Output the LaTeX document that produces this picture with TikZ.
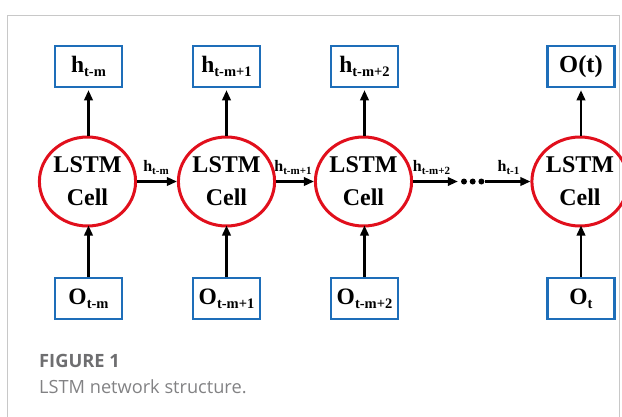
\documentclass[tikz,border=0pt]{standalone}
\usepackage{fontspec}
\setmainfont{Liberation Serif}
\newfontfamily\capfont{Open Sans}
\usetikzlibrary{arrows.meta,shapes.geometric}

\definecolor{boxblue}{RGB}{30,110,185}
\definecolor{cellred}{RGB}{225,15,28}
\definecolor{framegray}{RGB}{200,200,200}
\definecolor{capgray}{RGB}{110,110,112}
\definecolor{captxt}{RGB}{130,130,132}

% bold symbol with a lowered subscript
\newcommand{\symsub}[4]{{\fontsize{#3}{#3}\selectfont\bfseries #1\raisebox{-0.18em}{\fontsize{#4}{#4}\selectfont #2}}}

\begin{document}
\begin{tikzpicture}[x=1pt,y=-1pt,
  iobox/.style={draw=boxblue,line width=2.5pt,minimum width=67pt,minimum height=41pt,inner sep=0pt,fill=white},
  cell/.style={ellipse,draw=cellred,line width=3pt,minimum width=85pt,minimum height=89pt,inner sep=0pt,align=center,
    font=\fontsize{24}{33}\selectfont\bfseries},
  arr/.style={line width=2.1pt,-{Triangle[length=10pt,width=8.5pt]}},
  dot/.style={circle,fill=black,minimum size=6pt,inner sep=0pt},
  hlab/.style={inner sep=0pt,anchor=base}]
\useasboundingbox (0,0) rectangle (622,416);
\clip (0,0) rectangle (622,416);

% outer frame
\draw[framegray,line width=1pt] (7,430) -- (7,15) -- (619,15) -- (619,430);

% LSTM cells
\node[cell] (c1) at (87.5,181.5) {LSTM\\Cell};
\node[cell] (c2) at (226.5,181.5) {LSTM\\Cell};
\node[cell] (c3) at (363.5,181.5) {LSTM\\Cell};
\node[cell] (c4) at (580,181.5) {LSTM\\Cell};

% hidden state outputs
\node[iobox] (h1) at (88.5,66.5) {\symsub{h}{t-m}{23.5}{14.5}};
\node[iobox] (h2) at (226.5,66.5) {\symsub{h}{t-m+1}{23.5}{14.5}};
\node[iobox] (h3) at (364.5,66.5) {\symsub{h}{t-m+2}{23.5}{14.5}};
\node[iobox] (h4) at (581,66.5) {\fontsize{24.5}{24.5}\selectfont\bfseries O(t)};

% inputs
\node[iobox] (o1) at (88.5,298.5) {\symsub{O}{t-m}{23.5}{14.5}};
\node[iobox] (o2) at (226.5,298.5) {\symsub{O}{t-m+1}{23.5}{14.5}};
\node[iobox] (o3) at (364.5,298.5) {\symsub{O}{t-m+2}{23.5}{14.5}};
\node[iobox] (o4) at (581,298.5) {\symsub{O}{t}{23.5}{14.5}};

% vertical connectors
\foreach \i in {1,2,3,4}{
  \draw[arr] (h\i.south |- c\i.north) -- ([yshift=-2pt]h\i.south);
  \draw[arr] (o\i.north) -- ([yshift=2pt]o\i.north |- c\i.south);
}

% ellipsis between cells
\node[dot] (d1) at (464,181.5) {};
\node[dot] (d2) at (472.7,181.5) {};
\node[dot] (d3) at (481.4,181.5) {};

% recurrent connectors
\draw[arr] (c1.east) -- (c2.west);
\draw[arr] (c2.east) -- (c3.west);
\draw[arr] (c3.east) -- ([xshift=-3pt]d1.west);
\draw[arr] (d3.east) -- (c4.west);

% recurrent labels
\node[hlab] (l1) at (156,171.5) {\symsub{h}{t-m}{16}{11}};
\node[hlab] (l2) at (293,171.5) {\symsub{h}{t-m+1}{16}{11}};
\node[hlab] (l3) at (431.5,171.5) {\symsub{h}{t-m+2}{16}{11}};
\node[hlab] (l4) at (508.5,171.5) {\symsub{h}{t-1}{16}{11}};

% caption
\node[anchor=base west,inner sep=0pt,text=capgray,font=\capfont\bfseries\fontsize{18.3}{18.3}\selectfont] (cap1) at (39,367.7) {FIGURE 1};
\node[anchor=base west,inner sep=0pt,text=captxt,font=\capfont\fontsize{18.2}{18.2}\selectfont] (cap2) at (39,393.3) {LSTM network structure.};
\end{tikzpicture}
\end{document}
